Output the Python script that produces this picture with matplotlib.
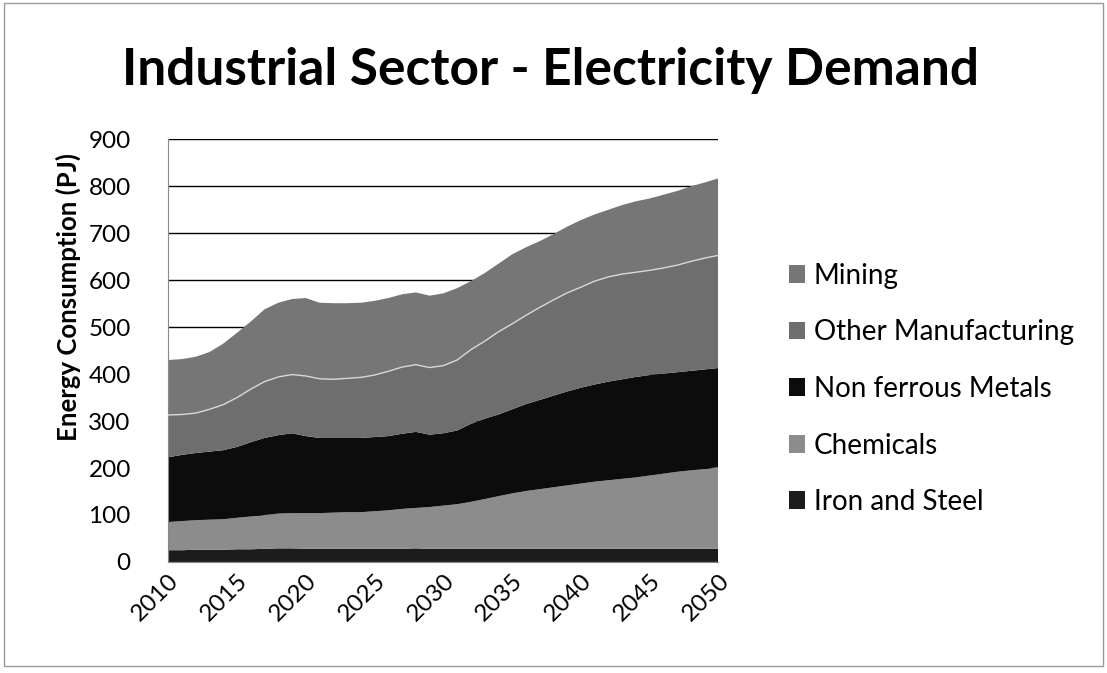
import matplotlib.pyplot as plt
import numpy as np
from matplotlib.patches import Rectangle

plt.rcParams['font.family'] = ['Lato', 'DejaVu Sans']

# years and PJ per sector
years = np.arange(2010, 2051)
iron_steel = [25, 25, 26, 26, 26, 27, 27, 28, 29, 29, 28, 28, 28, 28, 28, 28, 28, 28, 29, 28, 28,
              28, 28, 28, 28, 28, 28, 28, 28, 28, 28, 28, 28, 28, 28, 28, 28, 28, 28, 28, 28]
chemicals = [60, 62, 63, 64, 65, 67, 70, 72, 74, 75, 76, 76, 77, 78, 78, 80, 82, 85, 86, 89, 92,
             95, 100, 106, 112, 118, 123, 127, 131, 135, 139, 143, 146, 149, 152, 156, 160, 164, 167, 170, 174]
non_ferrous = [138, 141, 143, 145, 147, 151, 158, 164, 167, 170, 164, 160, 159, 158, 158, 158, 158, 160, 162, 154, 154,
               157, 166, 171, 174, 179, 185, 190, 195, 200, 204, 207, 210, 212, 214, 214, 213, 212, 212, 212, 211]
other_manuf = [90, 86, 85, 90, 97, 105, 113, 120, 124, 125, 128, 126, 125, 127, 129, 132, 138, 142, 143, 143, 144,
               150, 158, 165, 176, 182, 189, 197, 204, 210, 214, 220, 223, 224, 223, 223, 225, 228, 233, 237, 240]
mining = [117, 118, 120, 122, 130, 138, 144, 154, 158, 161, 166, 162, 162, 160, 159, 158, 156, 155, 154, 153, 154,
          153, 146, 145, 145, 148, 145, 141, 140, 141, 143, 142, 143, 147, 151, 153, 156, 158, 160, 161, 164]

labels = ['Iron and Steel', 'Chemicals', 'Non ferrous Metals', 'Other Manufacturing', 'Mining']
colors = ['#1c1c1c', '#8c8c8c', '#0c0c0c', '#6e6e6e', '#767676']

fig = plt.figure(figsize=(11.07, 6.73), dpi=100)
ax = fig.add_axes([0.152, 0.165, 0.497, 0.628])

for v in range(100, 901, 100):
    ax.axhline(v, color='black', lw=1.0, zorder=0)

ax.stackplot(years, iron_steel, chemicals, non_ferrous, other_manuf, mining,
             colors=colors, labels=labels, zorder=2)
# thin light line between other manufacturing and mining
om_top = np.sum([iron_steel, chemicals, non_ferrous, other_manuf], axis=0)
ax.plot(years, om_top, color='#d8d8d8', lw=1.0, zorder=3)

ax.set_xlim(2010, 2050)
ax.set_ylim(0, 900)
ax.set_yticks(range(0, 901, 100))
ax.set_xticks(range(2010, 2051, 5))
ax.tick_params(axis='y', labelsize=17.5, length=0, pad=27)
ax.tick_params(axis='x', labelsize=17.5, length=0, pad=6)
for t in ax.get_xticklabels():
    t.set_rotation(45)
    t.set_ha('right')
    t.set_rotation_mode('anchor')
for s in ['top', 'right']:
    ax.spines[s].set_visible(False)
ax.spines['left'].set_color('#888888')
ax.spines['bottom'].set_color('#888888')

fig.text(0.062, 0.558, 'Energy Consumption (PJ)', rotation=90, ha='center', va='center',
         fontsize=18.5, fontweight='bold')
fig.text(0.497, 0.895, 'Industrial Sector - Electricity Demand', ha='center', va='center',
         fontsize=37, fontweight='bold')

handles, labs = ax.get_legend_handles_labels()
fig.legend(handles[::-1], labs[::-1], loc='center left', bbox_to_anchor=(0.69, 0.422),
           frameon=False, fontsize=20, handlelength=0.6, handleheight=0.6,
           handletextpad=0.3, labelspacing=1.1)

fig.patches.append(Rectangle((0.004, 0.01), 0.992, 0.985, transform=fig.transFigure,
                             fill=False, edgecolor='#999999', lw=1.0))

fig.savefig('out.png', dpi=100)
